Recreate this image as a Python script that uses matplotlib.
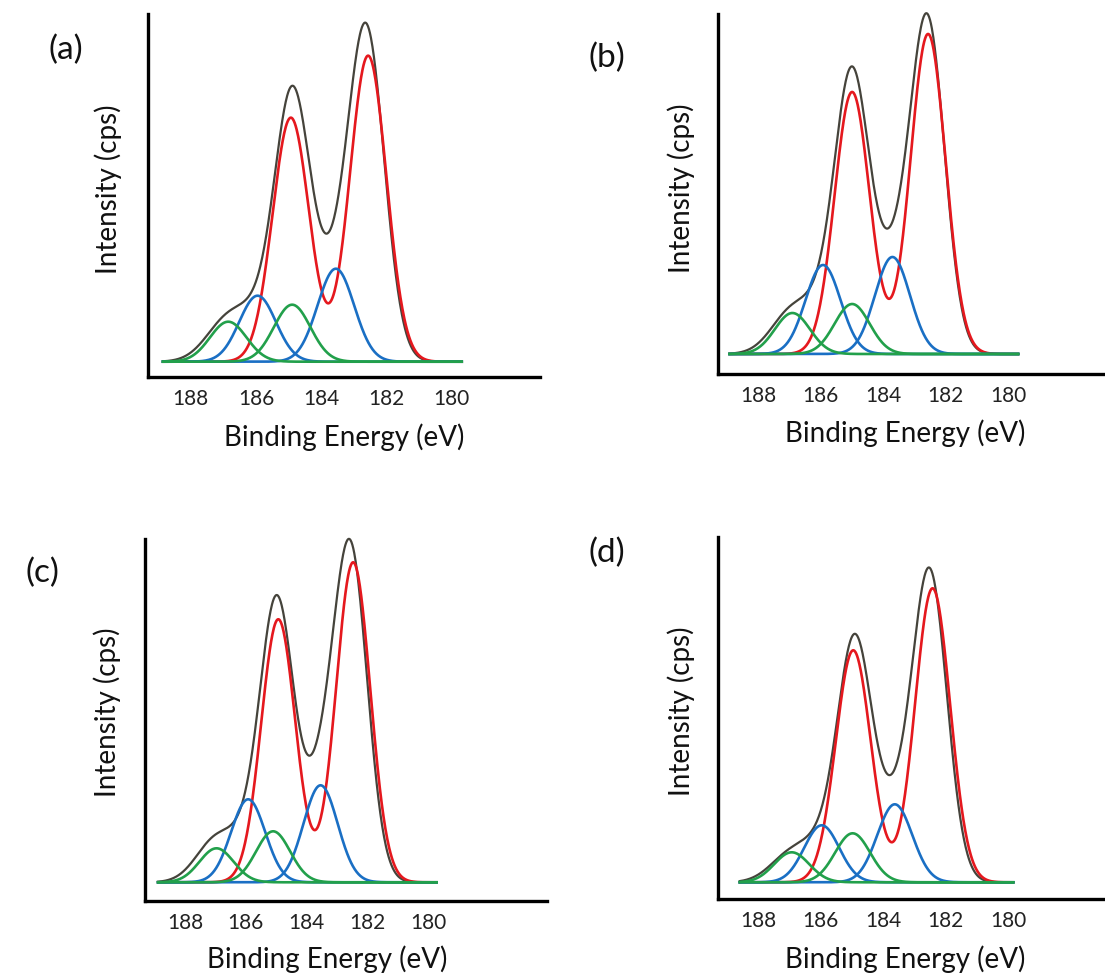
import numpy as np
import matplotlib
matplotlib.use("Agg")
import matplotlib.pyplot as plt

plt.rcParams['font.family'] = ['Lato', 'DejaVu Sans']

# peak parameters (binding energy in eV, height in arb. units)
panels = ["(a)", "(b)", "(c)", "(d)"]
ticks = [188, 186, 184, 182, 180]

red_center = [[182.56, 184.93], [182.56, 184.99], [182.47, 184.93], [182.42, 184.96]]
red_height = [[306, 244], [320, 262], [320, 263], [294, 232]]
blue_center = [[183.55, 185.95], [183.70, 185.92], [183.54, 185.92], [183.63, 185.97]]
blue_height = [[93, 66], [97, 89], [97, 83], [78, 57]]
green_center = [[184.89, 186.85], [184.99, 186.90], [185.10, 186.96], [184.98, 186.93]]
green_height = [[57, 40], [50, 41], [51, 34], [49, 30]]

# measured envelope, described by its own peaks
env_center = [[182.61, 184.88, 183.60, 185.95, 186.85],
              [182.58, 184.99, 183.70, 185.92, 186.90],
              [182.55, 184.97, 183.54, 185.92, 186.96],
              [182.51, 184.91, 183.63, 185.97, 186.93]]
env_height = [[326, 267, 61, 28, 42],
              [331, 275, 72, 30, 43],
              [325, 277, 84, 30, 43],
              [307, 240, 58, 27, 29]]
env_fwhm = [1.30, 1.30, 1.30, 1.30, 1.55]

scan_start = [188.85, 188.91, 188.88, 188.59]
scan_end = [179.69, 179.68, 179.73, 179.84]
comp_fwhm = 1.32

W, H = 1105, 978
fig = plt.figure(figsize=(W / 100, H / 100), dpi=100)


def box(l, t, r, b):
    return [l / W, 1 - b / H, (r - l) / W, (b - t) / H]


def peaks(x, centers, heights, fwhm):
    widths = np.broadcast_to(fwhm, (len(centers),))
    y = np.zeros_like(x)
    for c, h, w in zip(centers, heights, widths):
        s = w / 2.3548
        y += h * np.exp(-(x - c) ** 2 / (2 * s * s))
    return y


# pixel layout of each panel: axes box, xlim, ylim, label spots
layout = [
    dict(ax=(148, 15, 540, 378), xlim=(189.31, 177.29), ylim=(-15.3, 347.7),
         tag=(66, 50), ylab=(108, 189), xlab=(344, 437)),
    dict(ax=(718, 15, 1105, 375), xlim=(189.28, 176.90), ylim=(-20, 340),
         tag=(607, 58), ylab=(681, 188), xlab=(905, 433)),
    dict(ax=(145, 540, 547, 902), xlim=(189.31, 176.10), ylim=(-18.7, 343.3),
         tag=(42, 573), ylab=(107, 712), xlab=(327, 959)),
    dict(ax=(718, 538, 1105, 900), xlim=(189.29, 176.90), ylim=(-16.7, 345.3),
         tag=(607, 553), ylab=(681, 711), xlab=(905, 959)),
]

c_env = '#45433b'
c_red = '#e5181e'
c_blue = '#1a6fc4'
c_green = '#22a04b'

for i in range(4):
    L = layout[i]
    ax = fig.add_axes(box(*L['ax']))
    x = np.linspace(scan_start[i], scan_end[i], 600)

    ax.plot(x, peaks(x, env_center[i], env_height[i], env_fwhm), color=c_env, lw=1.6, clip_on=False)
    ax.plot(x, peaks(x, red_center[i], red_height[i], comp_fwhm), color=c_red, lw=1.9, clip_on=False)
    for c, h in zip(blue_center[i], blue_height[i]):
        ax.plot(x, peaks(x, [c], [h], comp_fwhm), color=c_blue, lw=1.9)
    for c, h in zip(green_center[i], green_height[i]):
        ax.plot(x, peaks(x, [c], [h], comp_fwhm), color=c_green, lw=1.9)

    ax.set_xlim(*L['xlim'])
    ax.set_ylim(*L['ylim'])
    ax.set_xticks(ticks)
    ax.set_xticklabels([str(t) for t in ticks], fontsize=15, color='#222222')
    ax.set_yticks([])
    ax.tick_params(axis='x', length=0, pad=8)
    ax.spines['top'].set_visible(False)
    ax.spines['right'].set_visible(False)
    ax.spines['left'].set_linewidth(2.4)
    ax.spines['bottom'].set_linewidth(2.4)

    fig.text(L['tag'][0] / W, 1 - L['tag'][1] / H, panels[i], fontsize=24,
             ha='center', va='center', color='#111111')
    fig.text(L['ylab'][0] / W, 1 - L['ylab'][1] / H, 'Intensity (cps)', fontsize=20,
             rotation=90, ha='center', va='center', color='#111111')
    fig.text(L['xlab'][0] / W, 1 - L['xlab'][1] / H, 'Binding Energy (eV)', fontsize=20,
             ha='center', va='center', color='#111111')

plt.savefig('out.png', dpi=100)
